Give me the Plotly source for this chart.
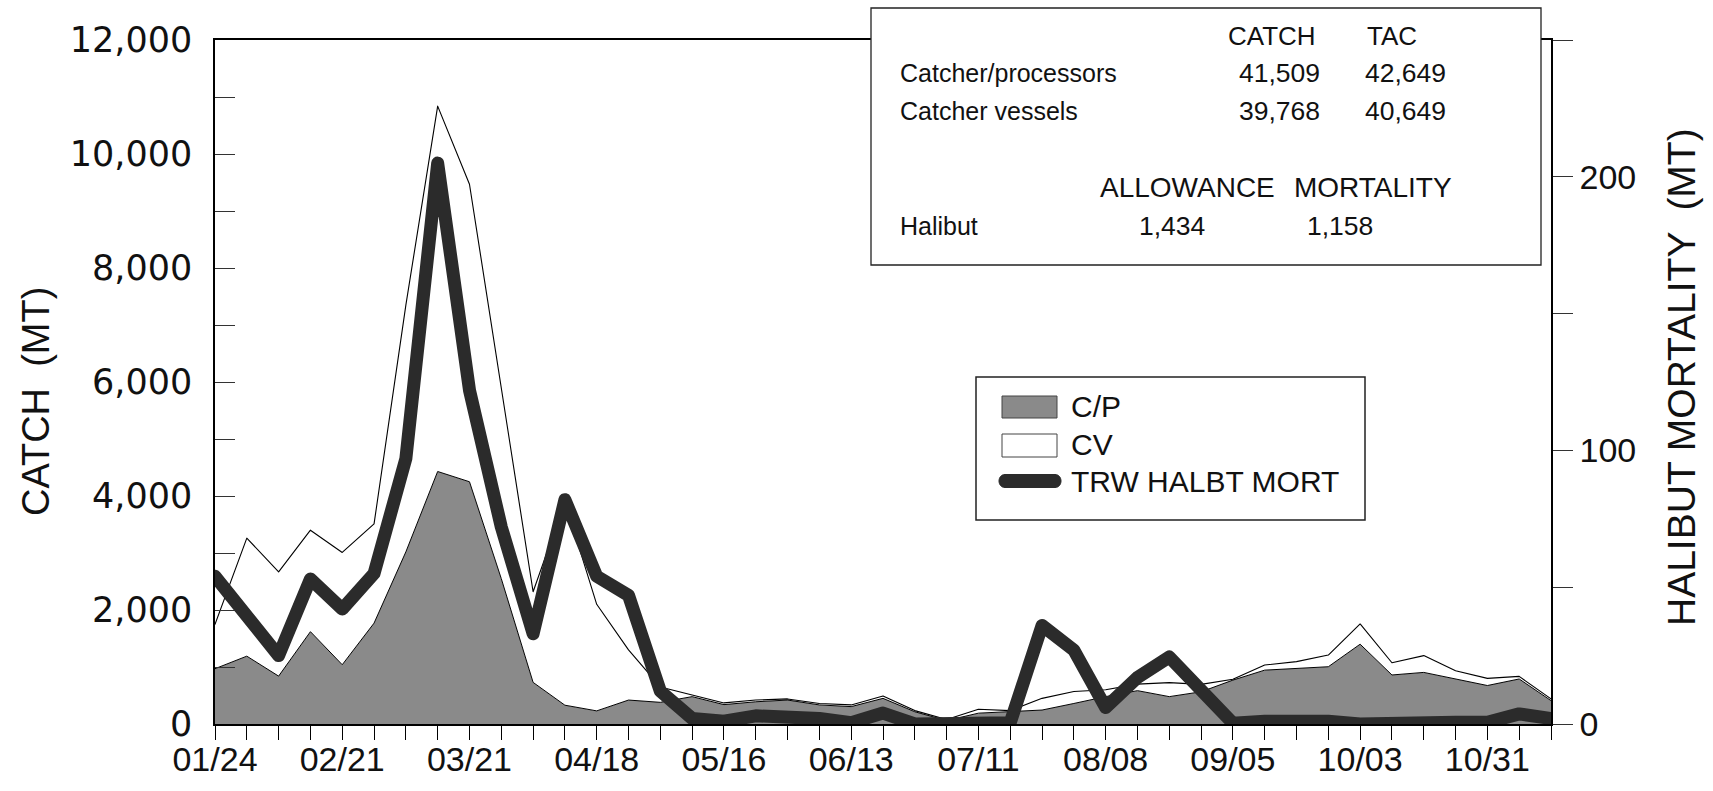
import plotly.graph_objects as go

# ---------------- data ----------------
weeks = ["01/24", "01/31", "02/07", "02/14", "02/21", "02/28", "03/07", "03/14", "03/21", "03/28",
         "04/04", "04/11", "04/18", "04/25", "05/02", "05/09", "05/16", "05/23", "05/30", "06/06",
         "06/13", "06/20", "06/27", "07/04", "07/11", "07/18", "07/25", "08/01", "08/08", "08/15",
         "08/22", "08/29", "09/05", "09/12", "09/19", "09/26", "10/03", "10/10", "10/17", "10/24",
         "10/31", "11/07", "11/14"]
tick_labels = ["01/24", "02/21", "03/21", "04/18", "05/16", "06/13", "07/11", "08/08", "09/05", "10/03", "10/31"]

# catcher/processor catch (MT)
cp = [970, 1190, 840, 1620, 1040, 1770, 3020, 4430, 4250, 2550,
      730, 330, 230, 420, 380, 480, 340, 390, 420, 335,
      305, 450, 215, 60, 190, 215, 245, 360, 480, 585,
      480, 565, 770, 945, 975, 1005, 1400, 860, 905, 790,
      675, 790, 410]
# catcher vessel catch (MT), stacked on top of C/P
cv = [780, 2070, 1830, 1780, 1970, 1740, 4330, 6410, 5220, 3350,
      1590, 3570, 1870, 880, 270, 30, 30, 30, 20, 25,
      30, 40, 20, 20, 70, 20, 205, 210, 120, 115,
      245, 130, 15, 90, 120, 205, 355, 215, 295, 145,
      125, 45, 30]
# trawl halibut mortality (MT)
mort = [54, 40, 25, 53, 42, 55, 97, 205, 122, 72,
        33, 82, 54, 47, 12, 2, 1, 3, 3, 2,
        0.5, 4, 0, 0.5, 1, 0.5, 36, 27, 6, 17,
        24.5, 12, 0.3, 1, 1.5, 1, 0, 0.5, 1, 0.6,
        0.6, 3.7, 2]

catch_ticks = [0, 2000, 4000, 6000, 8000, 10000, 12000]
mort_ticks = [0, 50, 100, 150, 200, 250]
mort_labels = ["0", "", "100", "", "200", ""]

summary_rows = [("Catcher/processors", "41,509", "42,649"),
                ("Catcher vessels", "39,768", "40,649")]
halibut_row = ("Halibut", "1,434", "1,158")

# ---------------- figure ----------------
ARIAL = "Liberation Sans, Arial, sans-serif"
W, H = 1713, 791
L, R, T, B = 215, 162, 40, 67
PW, PH = W - L - R, H - T - B

def px(x):
    return (x - L) / PW

def py(y):
    return (H - B - y) / PH

GRAY = "#8a8a8a"
DARK = "#2b2b2b"

fig = go.Figure()
fig.add_trace(go.Scatter(x=weeks, y=cp, name="C/P", stackgroup="catch", mode="lines",
                         line=dict(color="black", width=1), fillcolor=GRAY))
fig.add_trace(go.Scatter(x=weeks, y=cv, name="CV", stackgroup="catch", mode="lines",
                         line=dict(color="black", width=1.1), fillcolor="white"))
fig.add_trace(go.Scatter(x=weeks, y=mort, name="TRW HALBT MORT", yaxis="y2", mode="lines",
                         line=dict(color=DARK, width=13)))

fig.update_layout(
    width=W, height=H,
    margin=dict(l=L, r=R, t=T, b=B, autoexpand=False),
    paper_bgcolor="white", plot_bgcolor="white",
    showlegend=False,
    xaxis=dict(type="category", range=[0, len(weeks) - 1], automargin=False,
               tickmode="array", tickvals=weeks,
               ticktext=[w if w in tick_labels else "" for w in weeks],
               ticks="outside", ticklen=14, tickwidth=1.2, tickcolor="black",
               showline=True, linecolor="black", linewidth=1.5, mirror=True,
               showgrid=False, zeroline=False, ticklabelstandoff=-10,
               tickfont=dict(family=ARIAL, size=34, color="#111")),
    yaxis=dict(range=[0, 12000], tickmode="array", tickvals=catch_ticks, automargin=False,
               ticktext=[f"{v:,}" for v in catch_ticks],
               ticks="inside", ticklen=20, tickwidth=1.2, tickcolor="#333",
               minor=dict(tickvals=[1000, 3000, 5000, 7000, 9000, 11000], ticks="inside",
                          ticklen=20, tickwidth=1.2, tickcolor="#333"),
               showline=True, linecolor="black", linewidth=1.5,
               showgrid=False, zeroline=False, ticklabelstandoff=14,
               tickfont=dict(family="DejaVu Sans, sans-serif", size=35, color="#111")),
    yaxis2=dict(range=[0, 250], overlaying="y", side="right", tickmode="array", automargin=False,
                tickvals=mort_ticks, ticktext=mort_labels,
                ticks="outside", ticklen=20, tickwidth=1.2, tickcolor="#333",
                showline=True, linecolor="black", linewidth=1.5,
                showgrid=False, zeroline=False, ticklabelstandoff=0,
                tickfont=dict(family=ARIAL, size=34, color="#111")),
)

ann = []
shapes = []

# axis titles
ann.append(dict(text="CATCH  (MT)", x=px(36), y=py(402), xref="paper", yref="paper",
                showarrow=False, textangle=-90, xanchor="center", yanchor="middle",
                font=dict(family=ARIAL, size=38, color="#111")))
ann.append(dict(text="HALIBUT MORTALITY  (MT)", x=px(1681), y=py(377), xref="paper", yref="paper",
                showarrow=False, textangle=-90, xanchor="center", yanchor="middle",
                font=dict(family=ARIAL, size=39, color="#111")))

# summary box
shapes.append(dict(type="rect", xref="paper", yref="paper", x0=px(871), x1=px(1541),
                   y0=py(265), y1=py(8), fillcolor="white", line=dict(color="#222", width=1.3),
                   layer="above"))

def txt(s, x, y, anchor, size=26):
    ann.append(dict(text=s, x=px(x), y=py(y), xref="paper", yref="paper", showarrow=False,
                    xanchor=anchor, yanchor="middle",
                    font=dict(family=ARIAL, size=size, color="#111")))

txt("CATCH", 1272, 36, "center")
txt("TAC", 1392, 36, "center")
for (label, c, t), yy in zip(summary_rows, [73, 111]):
    txt(label, 898, yy, "left", 25)
    txt(c, 1322, yy, "right", 26.5)
    txt(t, 1448, yy, "right", 26.5)
txt("ALLOWANCE", 1098, 187, "left", 28)
txt("MORTALITY", 1454, 187, "right", 28)
txt(halibut_row[0], 898, 226, "left", 25)
txt(halibut_row[1], 1172, 226, "center", 26.5)
txt(halibut_row[2], 1340, 226, "center", 26.5)

# legend box
shapes.append(dict(type="rect", xref="paper", yref="paper", x0=px(976), x1=px(1365),
                   y0=py(520), y1=py(377), fillcolor="white", line=dict(color="#222", width=1.5),
                   layer="above"))
shapes.append(dict(type="rect", xref="paper", yref="paper", x0=px(1002), x1=px(1057),
                   y0=py(418), y1=py(396), fillcolor=GRAY, line=dict(color="#444", width=1),
                   layer="above"))
shapes.append(dict(type="rect", xref="paper", yref="paper", x0=px(1002), x1=px(1057),
                   y0=py(457), y1=py(434), fillcolor="white", line=dict(color="#444", width=1),
                   layer="above"))
shapes.append(dict(type="path", xref="paper", yref="paper", xsizemode="pixel", ysizemode="pixel",
                   xanchor=px(1030), yanchor=py(481),
                   path="M -25,-6.5 L 25,-6.5 C 33,-6.5 33,6.5 25,6.5 L -25,6.5 C -33,6.5 -33,-6.5 -25,-6.5 Z",
                   fillcolor=DARK, line=dict(color=DARK, width=1), layer="above"))
LEGF = dict(family=ARIAL, size=30, color="#111")
for s, yy in [("C/P", 406), ("CV", 444), ("TRW HALBT MORT", 481)]:
    ann.append(dict(text=s, x=px(1069), y=py(yy), xref="paper", yref="paper", showarrow=False,
                    xanchor="left", yanchor="middle", font=LEGF))

fig.update_layout(annotations=ann, shapes=shapes)

post = """
document.body.style.margin='0';
document.body.style.overflow='hidden';
document.documentElement.style.overflow='hidden';
document.querySelectorAll('path.js-line').forEach(function(p){
  p.style.strokeLinejoin='round'; p.style.strokeLinecap='round';
});
document.querySelectorAll('.subplot.xy2 .plot').forEach(function(g){ g.removeAttribute('clip-path'); });
"""
fig.write_html("out.html", post_script=post, config={"displayModeBar": False})
